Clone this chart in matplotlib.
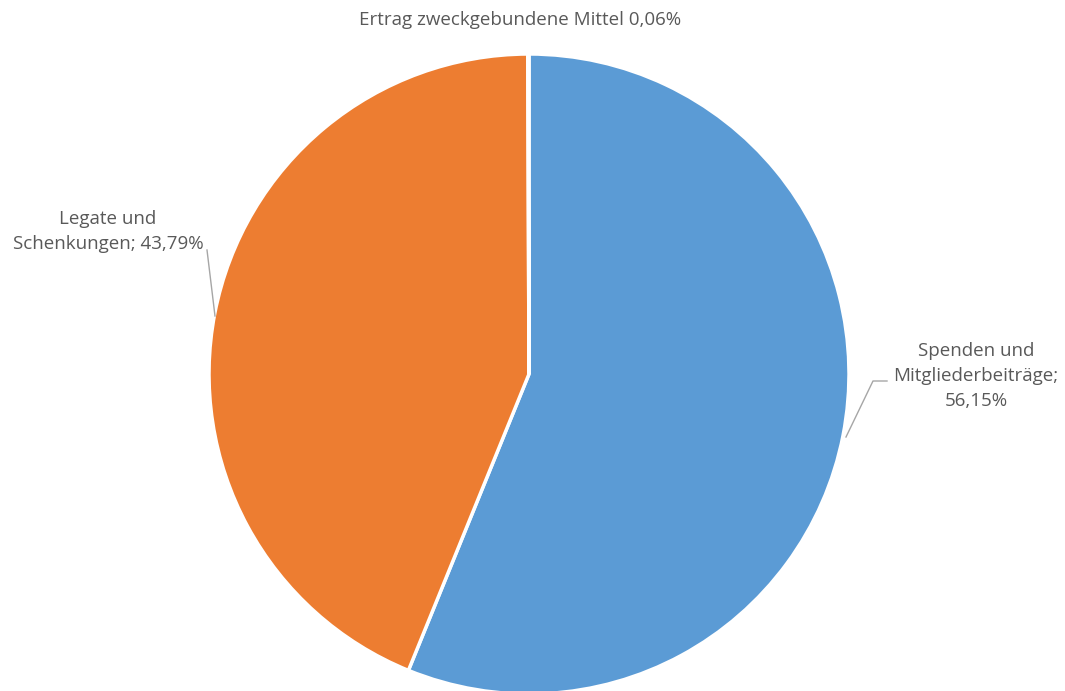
"""Pie chart: Ertragsstruktur."""

import matplotlib

matplotlib.use("Agg")
import matplotlib.pyplot as plt

LABELS = ["Spenden und\nMitgliederbeiträge;\n56,15%", "Legate und\nSchenkungen; 43,79%", "Ertrag zweckgebundene Mittel 0,06%"]
SHARES = [56.15, 43.79, 0.06]
COLORS = ["#5B9BD5", "#ED7D31", "#A5A5A5"]

W, H = 1065, 691
TEXT = "#595959"

fig = plt.figure(figsize=(W / 100, H / 100), dpi=100)
ax = fig.add_axes([0, 0, 1, 1])

cx, cy, r = 529, H - 374, 320
ax.pie(
    SHARES,
    colors=COLORS,
    startangle=90,
    counterclock=False,
    center=(cx, cy),
    radius=r,
    frame=True,
    wedgeprops=dict(edgecolor="white", linewidth=2.5),
)
ax.set_xlim(0, W)
ax.set_ylim(0, H)
ax.set_aspect("equal")
ax.axis("off")

font = dict(family="Open Sans", fontsize=13.5, color=TEXT, ha="center", va="center",
            linespacing=1.5)
ax.text(976, H - 376, LABELS[0], **font)
ax.text(108, H - 231, LABELS[1], **font)
ax.text(520, H - 20, LABELS[2], **font)

# leader lines
ax.plot([846, 873, 887], [H - 437, H - 381, H - 381], color="#A6A6A6", lw=1)
ax.plot([207, 215], [H - 250, H - 316], color="#A6A6A6", lw=1)

fig.savefig("out.png", dpi=100)
